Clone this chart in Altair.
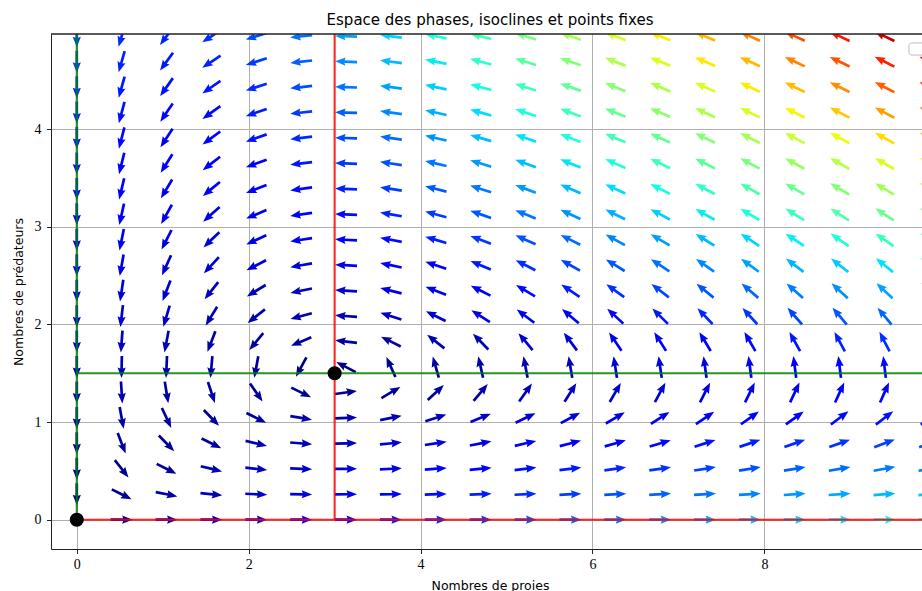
import altair as alt
import numpy as np
import pandas as pd

# ---------------- texts ----------------
title_text = "Espace des phases, isoclines et points fixes"
x_title = "Nombres de proies"
y_title = "Nombres de prédateurs"

# ---------------- model (Lotka-Volterra) ----------------
# dx/dt = x (alpha - beta y) ; dy/dt = y (delta x - gamma)
alpha, beta, gamma, delta = 1.5, 1.0, 1.5, 0.5

# ---------------- axes ----------------
x_limits = [-0.3, 9.92]
y_limits = [-0.3, 4.973]
grid_x_max = 9.92
grid_y_max = 4.95
n_per_axis = 20
x_ticks = [0, 2, 4, 6, 8]
y_ticks = [0, 1, 2, 3, 4]

# fixed points
fixed_x = [0.0, 3.0]
fixed_y = [0.0, 1.5]

# isoclines (segments)
iso_x1 = [0.0, 0.0, 3.0, 0.0]
iso_y1 = [0.0, 1.5, 0.0, 0.0]
iso_x2 = [0.0, 10.0, 3.0, 10.0]
iso_y2 = [5.0, 1.5, 5.0, 0.0]
iso_col = ["green", "green", "red", "red"]

# ---------------- layout ----------------
PAD_L, PAD_T = 51, 34
W, H = 871, 515
PX_PER_X = 85.95
x_domain = [x_limits[0], x_limits[0] + W / PX_PER_X]
y_domain = y_limits

# ---------------- vector field ----------------
xg = np.linspace(0, grid_x_max, n_per_axis)
yg = np.linspace(0, grid_y_max, n_per_axis)
X, Y = np.meshgrid(xg, yg)
U = X * (alpha - beta * Y)
V = Y * (delta * X - gamma)
M = np.hypot(U, V)
field = pd.DataFrame({"x": X.ravel(), "y": Y.ravel(), "u": U.ravel(), "v": V.ravel(), "m": M.ravel()})
field = field[field["m"] > 0].copy()
field["t"] = field["m"] / M.max()
field["angle"] = (np.degrees(np.arctan2(field["u"], field["v"])) + 360) % 360

# jet colormap stops (matplotlib segment data)
jet_r = ([0, 0.35, 0.66, 0.89, 1], [0, 0, 1, 1, 0.5])
jet_g = ([0, 0.125, 0.375, 0.64, 0.91, 1], [0, 0, 1, 1, 0, 0])
jet_b = ([0, 0.11, 0.34, 0.65, 1], [0.5, 1, 1, 0, 0])
stops = [0, 0.11, 0.125, 0.34, 0.35, 0.375, 0.64, 0.65, 0.66, 0.89, 0.91, 1]


def _hex(s):
    r = np.interp(s, *jet_r)
    g = np.interp(s, *jet_g)
    b = np.interp(s, *jet_b)
    return "#%02x%02x%02x" % (int(round(r * 255)), int(round(g * 255)), int(round(b * 255)))


jet_range = [_hex(s) for s in stops]

arrow_path = "M -1.35 11 L -1.35 -1.5 L -4.1 -0.5 L 0 -11 L 4.1 -0.5 L 1.35 -1.5 L 1.35 11 Z"

xs = alt.Scale(domain=x_domain, nice=False, zero=False)
ys = alt.Scale(domain=y_domain, nice=False, zero=False)

x_axis = alt.Axis(values=x_ticks, format="d", title=x_title, grid=True,
                  titleX=490 - PAD_L, titleY=30, titleBaseline="top", titleAnchor="middle")
y_axis = alt.Axis(values=y_ticks, format="d", title=y_title, grid=True,
                  titleX=18 - PAD_L, titleBaseline="middle")

arrows = alt.Chart(field).mark_point(
    shape=arrow_path, filled=True, size=4, opacity=1, strokeWidth=0, clip=True
).encode(
    x=alt.X("x:Q", scale=xs, axis=x_axis),
    y=alt.Y("y:Q", scale=ys, axis=y_axis),
    angle=alt.Angle("angle:Q", scale=None),
    color=alt.Color("t:Q", scale=alt.Scale(domain=stops, range=jet_range, interpolate="rgb"), legend=None),
)

iso_df = pd.DataFrame({"x": iso_x1, "y": iso_y1, "x2": iso_x2, "y2": iso_y2, "c": iso_col})
iso = alt.Chart(iso_df).mark_rule(strokeWidth=2.1, opacity=0.85, clip=True).encode(
    x=alt.X("x:Q", scale=xs), y=alt.Y("y:Q", scale=ys), x2="x2:Q", y2="y2:Q",
    color=alt.Color("c:N", scale=None),
)

fp_df = pd.DataFrame({"x": fixed_x, "y": fixed_y})
fps = alt.Chart(fp_df).mark_circle(size=200, color="black", opacity=1, clip=True).encode(
    x=alt.X("x:Q", scale=xs), y=alt.Y("y:Q", scale=ys)
)

top_spine = alt.Chart(fp_df).mark_rule(color="#222222", strokeWidth=1).encode(
    x=alt.value(0), x2=alt.value(W), y=alt.value(0)
)

legend_box = alt.Chart(fp_df).mark_rect(
    fill="white", fillOpacity=0.8, stroke="#cccccc", strokeWidth=1, cornerRadius=3, clip=True
).encode(x=alt.value(858), x2=alt.value(890), y=alt.value(9), y2=alt.value(21))

chart = alt.layer(arrows, iso, fps, legend_box, top_spine).properties(
    width=W, height=H,
    autosize=alt.AutoSizeParams(type="none"),
    padding={"left": PAD_L, "top": PAD_T, "right": 0, "bottom": 42},
    title=alt.TitleParams(text=title_text, font="DejaVu Sans", fontSize=15, fontWeight="normal",
                          color="black", anchor="middle", dx=3.5, offset=6),
).configure_view(stroke=None).configure_axis(
    domainColor="#222222", domainWidth=1, tickColor="#222222", tickSize=4.5, tickWidth=1,
    gridColor="#b0b0b0", gridWidth=1, gridOpacity=1,
    labelFont="Liberation Serif", labelFontSize=14, labelColor="black",
    titleFont="DejaVu Sans", titleFontSize=12.5, titleFontWeight="normal", titleColor="black",
).configure_axisX(labelPadding=3.5).configure_axisY(labelPadding=5.5)

chart.save("out.html", embed_options={"renderer": "svg", "actions": False})
